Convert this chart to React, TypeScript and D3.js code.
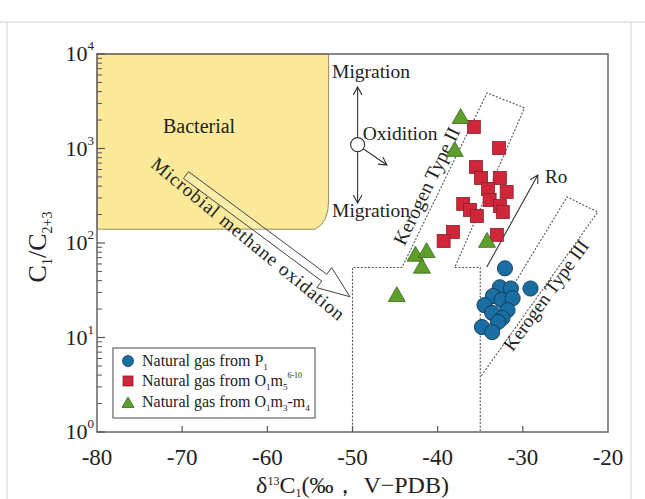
import * as d3 from "d3";

// δ13C1 (‰) vs C1/C2+3
const p1Gas = [
  [-32.1, 54], [-32.7, 34], [-31.4, 33], [-29.1, 33], [-33.5, 27.5],
  [-32.5, 25], [-31.2, 26], [-34.5, 22], [-31.8, 19.5], [-33.6, 18.2],
  [-32.4, 16.1], [-32.9, 14.6], [-34.8, 12.9], [-33.6, 11.4],
];
const o1m5Gas = [
  [-35.75, 1690], [-32.8, 1010], [-35.5, 637], [-34.9, 487], [-32.7, 487],
  [-34.1, 373], [-31.9, 347], [-33.9, 285], [-37.0, 259], [-36.2, 224],
  [-35.4, 193], [-32.7, 246], [-32.35, 213], [-38.2, 131], [-39.3, 105],
  [-33.05, 122],
];
const o1m3m4Gas = [
  [-37.3, 2150], [-38.0, 964], [-34.2, 105], [-42.6, 75], [-41.3, 82],
  [-41.85, 56], [-44.8, 28],
];

const xTicks = [-80, -70, -60, -50, -40, -30, -20];
const yDecades = [0, 1, 2, 3, 4];

// outlines of the genetic fields (data units)
const bacterialZone = { xMax: -52.8, xCorner: -54.4, yBottom: 140, yCorner: 285 };
const kerogenIIBound = [
  [-50, 1], [-50, 55], [-44.2, 55], [-34.2, 3870], [-29.8, 2690],
  [-38.0, 55], [-35, 55], [-35, 1],
];
const kerogenIIIBound = [[-34.3, 12], [-24.8, 307], [-21.2, 213], [-35, 3.8]];

const W = 645;
const H = 499;
const margin = { left: 97, right: 608, top: 54, bottom: 432 };

const x = d3.scaleLinear().domain([-80, -20]).range([margin.left, margin.right]);
const y = d3.scaleLog().domain([1, 1e4]).range([margin.bottom, margin.top]);

const serif = "'Liberation Serif', 'Times New Roman', serif";
const ink = "#222";

const pt = (d: number[]) => [x(d[0]), y(d[1])] as [number, number];

function openArrow(x1: number, y1: number, x2: number, y2: number, size = 9) {
  const a = Math.atan2(y2 - y1, x2 - x1);
  const s = 0.5;
  const p1 = [x2 - size * Math.cos(a - s), y2 - size * Math.sin(a - s)];
  const p2 = [x2 - size * Math.cos(a + s), y2 - size * Math.sin(a + s)];
  return `M${x1},${y1}L${x2},${y2}M${p1[0]},${p1[1]}L${x2},${y2}L${p2[0]},${p2[1]}`;
}

function hollowArrow(tail: number[], tip: number[]) {
  const [tx, ty] = pt(tail);
  const [px, py] = pt(tip);
  const len = Math.hypot(px - tx, py - ty);
  const ux = (px - tx) / len;
  const uy = (py - ty) / len;
  const nx = -uy;
  const ny = ux;
  const hw = 4.2;
  const hh = 12.5;
  const hl = 32;
  const bx = px - ux * hl;
  const by = py - uy * hl;
  const pts = [
    [tx + nx * hw, ty + ny * hw],
    [bx + nx * hw, by + ny * hw],
    [bx + nx * hh, by + ny * hh],
    [px, py],
    [bx - nx * hh, by - ny * hh],
    [bx - nx * hw, by - ny * hw],
    [tx - nx * hw, ty - ny * hw],
  ];
  return "M" + pts.map((p) => p.join(",")).join("L") + "Z";
}

export default function App() {
  const line = d3.line<number[]>().x((d) => x(d[0])).y((d) => y(d[1]));

  const bz = bacterialZone;
  const bacterialPath =
    `M${x(-80)},${y(1e4)}L${x(bz.xMax)},${y(1e4)}L${x(bz.xMax)},${y(bz.yCorner)}` +
    `Q${x(bz.xMax)},${y(bz.yBottom) - 6} ${x(bz.xCorner)},${y(bz.yBottom)}` +
    `L${x(-80)},${y(bz.yBottom)}Z`;

  const minorTicks: number[] = [];
  yDecades.slice(0, -1).forEach((k) => {
    for (let m = 2; m <= 9; m++) minorTicks.push(m * Math.pow(10, k));
  });

  // migration / oxidation symbol
  const migX = x(-49.4);
  const migY = y(1100);
  const r0 = 7;

  const triangle = (cx: number, cy: number, s = 8.5) =>
    `M${cx},${cy - s}L${cx + s},${cy + s * 0.75}L${cx - s},${cy + s * 0.75}Z`;

  const legendX = 113;
  const legendY = 348;
  const rowY = [361, 381, 402];

  return (
    <svg
      width={W}
      height={H}
      style={{ position: "absolute", left: 0, top: 0, background: "#fff" }}
      fontFamily={serif}
    >
      {/* outer figure frame */}
      <line x1={0} x2={W} y1={22} y2={22} stroke="#cfcfcf" />
      <line x1={7} x2={7} y1={22} y2={H} stroke="#cfcfcf" />
      <line x1={631} x2={631} y1={22} y2={H} stroke="#cfcfcf" />

      {/* bacterial field */}
      <path d={bacterialPath} fill="#fcea9a" stroke="#9c8a5a" strokeWidth={1} />
      <text x={x(-72.25)} y={y(1459)} fontSize={20} fill={ink}>
        Bacterial
      </text>

      {/* kerogen fields */}
      <path d={line(kerogenIIBound) ?? ""} fill="none" stroke="#555" strokeWidth={1.1} strokeDasharray="2,1.6" />
      <path d={line(kerogenIIIBound) ?? ""} fill="none" stroke="#555" strokeWidth={1.1} strokeDasharray="2,1.6" />
      <text
        transform={`translate(${x(-43.9)},${y(92)}) rotate(-64)`}
        fontSize={19.5}
        fill={ink}
      >
        Kerogen Type II
      </text>
      <text
        transform={`translate(${x(-31.2)},${y(7.0)}) rotate(-54)`}
        fontSize={19}
        fill={ink}
      >
        Kerogen Type III
      </text>

      {/* maturity arrow */}
      <path
        d={openArrow(x(-34.23), y(55.7), x(-28.24), y(524))}
        fill="none"
        stroke="#333"
        strokeWidth={1.1}
      />
      <text x={x(-27.4)} y={y(431)} fontSize={19} fill={ink}>
        Ro
      </text>

      {/* microbial methane oxidation arrow */}
      <path d={hollowArrow([-69.55, 524], [-50.3, 27])} fill="#fff" fillOpacity={0.15} stroke="#444" strokeWidth={1} />
      <text
        transform={`translate(${x(-73.8)},${y(650)}) rotate(39.5)`}
        fontSize={19}
        fill={ink}
        textLength={244}
        lengthAdjust="spacing"
      >
        Microbial methane oxidation
      </text>

      {/* migration / oxidition */}
      <path d={openArrow(migX, migY - r0, migX, y(4477))} fill="none" stroke="#333" strokeWidth={1.1} />
      <path d={openArrow(migX, migY + r0, migX, y(265))} fill="none" stroke="#333" strokeWidth={1.1} />
      <path
        d={openArrow(migX + r0 * 0.8, migY + r0 * 0.6, x(-45.96), y(669))}
        fill="none"
        stroke="#333"
        strokeWidth={1.1}
      />
      <circle cx={migX} cy={migY} r={r0} fill="#fff" stroke="#333" strokeWidth={1.1} />
      <text x={x(-52.4)} y={y(5572)} fontSize={19.5} fill={ink}>
        Migration
      </text>
      <text x={x(-48.8)} y={y(1230)} fontSize={19.5} fill={ink}>
        Oxidition
      </text>
      <text x={x(-52.4)} y={y(188)} fontSize={19.5} fill={ink}>
        Migration
      </text>

      {/* data */}
      {o1m5Gas.map((d, i) => (
        <rect
          key={"s" + i}
          x={x(d[0]) - 6.5}
          y={y(d[1]) - 6.5}
          width={13}
          height={13}
          fill="#d0263a"
          stroke="#8c1f2a"
          strokeWidth={0.8}
        />
      ))}
      {o1m3m4Gas.map((d, i) => (
        <path
          key={"t" + i}
          d={triangle(x(d[0]), y(d[1]))}
          fill="#5e9f2c"
          stroke="#3b661c"
          strokeWidth={0.8}
        />
      ))}
      {p1Gas.map((d, i) => (
        <circle
          key={"c" + i}
          cx={x(d[0])}
          cy={y(d[1])}
          r={7.6}
          fill="#1a6ea2"
          stroke="#0d3b5c"
          strokeWidth={0.9}
        />
      ))}

      {/* legend */}
      <rect x={legendX} y={legendY} width={202} height={70} fill="#fff" stroke="#666" strokeWidth={1.2} />
      <circle cx={128} cy={rowY[0]} r={5.5} fill="#1a6ea2" stroke="#0d3b5c" strokeWidth={0.8} />
      <rect x={123} y={rowY[1] - 5} width={10} height={10} fill="#d0263a" stroke="#8c1f2a" strokeWidth={0.8} />
      <path d={triangle(128, rowY[2] + 1, 6)} fill="#5e9f2c" stroke="#3b661c" strokeWidth={0.8} />
      <text x={142} y={rowY[0] + 5} fontSize={16} fill={ink}>
        Natural  gas  from  P<tspan dy={4} fontSize={9}>1</tspan>
      </text>
      <text x={142} y={rowY[1] + 5} fontSize={16} fill={ink}>
        Natural gas from O<tspan dy={4} fontSize={9}>1</tspan>
        <tspan dy={-4}>m</tspan>
        <tspan dy={4} fontSize={9}>5</tspan>
        <tspan dy={-12} fontSize={8}>6-10</tspan>
      </text>
      <text x={142} y={rowY[2] + 5} fontSize={16} fill={ink}>
        Natural gas from O<tspan dy={4} fontSize={9}>1</tspan>
        <tspan dy={-4}>m</tspan>
        <tspan dy={4} fontSize={9}>3</tspan>
        <tspan dy={-4}>-m</tspan>
        <tspan dy={4} fontSize={9}>4</tspan>
      </text>

      {/* axes frame */}
      <rect
        x={margin.left}
        y={margin.top}
        width={margin.right - margin.left}
        height={margin.bottom - margin.top}
        fill="none"
        stroke="#666"
        strokeWidth={1.5}
      />
      {minorTicks.map((v) => (
        <line key={"m" + v} x1={margin.left} x2={margin.left + 5} y1={y(v)} y2={y(v)} stroke="#555" strokeWidth={1} />
      ))}
      {yDecades.map((k) => (
        <g key={"y" + k}>
          <line x1={margin.left} x2={margin.left + 8} y1={y(Math.pow(10, k))} y2={y(Math.pow(10, k))} stroke="#555" strokeWidth={1.2} />
          <text x={94} y={y(Math.pow(10, k)) + 7} textAnchor="end" fontSize={22} fill={ink}>
            10<tspan dy={-11} fontSize={13}>{k}</tspan>
          </text>
        </g>
      ))}
      {xTicks.map((v) => (
        <g key={"x" + v}>
          {v > -80 && v < -20 && (
            <line x1={x(v)} x2={x(v)} y1={margin.bottom} y2={margin.bottom - 6} stroke="#555" strokeWidth={1.2} />
          )}
          <text x={x(v)} y={465} textAnchor="middle" fontSize={23} fill={ink}>
            {v}
          </text>
        </g>
      ))}

      {/* axis titles */}
      <text x={(margin.left + margin.right) / 2} y={493} textAnchor="middle" fontSize={24} fill={ink}>
        δ<tspan dy={-8} fontSize={12}>13</tspan>
        <tspan dy={8}>C</tspan>
        <tspan dy={4} fontSize={12}>1</tspan>
        <tspan dy={-4}>(‰，</tspan>
        <tspan>{"\u00a0V\u2212PDB)"}</tspan>
      </text>
      <text
        transform={`translate(46,${(margin.top + margin.bottom) / 2 + 4}) rotate(-90)`}
        textAnchor="middle"
        fontSize={26}
        fill={ink}
      >
        C<tspan dy={6} fontSize={14}>1</tspan>
        <tspan dy={-6}>/C</tspan>
        <tspan dy={6} fontSize={14}>2+3</tspan>
      </text>
    </svg>
  );
}
